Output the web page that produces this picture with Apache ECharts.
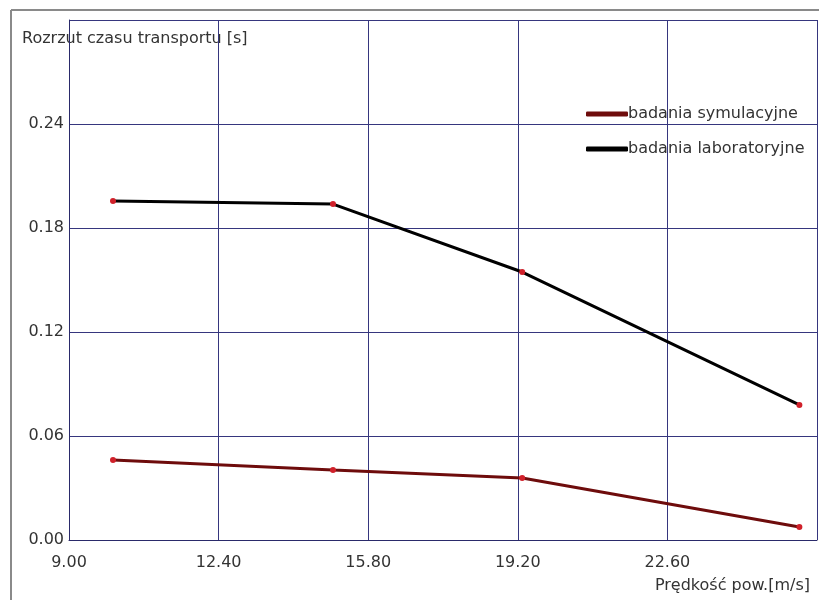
<!DOCTYPE html>
<html><head><meta charset="utf-8">
<script src="https://cdn.jsdelivr.net/npm/echarts@6/dist/echarts.min.js"></script>
<style>html,body{margin:0;padding:0;background:#fff}#c{width:819px;height:600px}</style>
</head><body><div id="c"></div>
<script>
const speeds = [10.0, 15.0, 19.3, 25.6];
const symulacyjne = [0.0462, 0.0404, 0.0358, 0.0075];
const laboratoryjne = [0.1956, 0.1938, 0.1546, 0.0779];
const seriesNames = ['badania symulacyjne', 'badania laboratoryjne'];
const lineColors = ['#6e0c0c', '#000000'];
const yTitle = 'Rozrzut czasu transportu [s]';
const xTitle = 'Prędkość pow.[m/s]';

const font = 'DejaVu Sans';
const chart = echarts.init(document.getElementById('c'));
const pairs = v => speeds.map((s, i) => [s, v[i]]);
chart.setOption({
  animation: false,
  textStyle: {fontFamily: font},
  grid: {left: 69, top: 20, right: 2, bottom: 60, containLabel: false},
  graphic: [
    {type: 'line', shape: {x1: 11, y1: 10, x2: 819, y2: 10}, style: {stroke: '#8a8a8a', lineWidth: 2}},
    {type: 'line', shape: {x1: 11, y1: 10, x2: 11, y2: 600}, style: {stroke: '#8a8a8a', lineWidth: 2}},
    {type: 'text', left: 22, top: 31, style: {text: yTitle, font: '16px ' + font, fill: '#333'}},
    {type: 'text', right: 9, top: 578, style: {text: xTitle, font: '16px ' + font, fill: '#333'}}
  ],
  legend: {
    left: 581, top: 101, orient: 'vertical', itemGap: 19,
    itemWidth: 42, itemHeight: 5, icon: 'roundRect',
    textStyle: {fontFamily: font, fontSize: 16, color: '#333', padding: [0, 0, 0, -5]},
    data: seriesNames.map((n, i) => ({name: n, itemStyle: {color: lineColors[i]}}))
  },
  xAxis: {
    type: 'value', min: 9, max: 26, interval: 3.4,
    axisLine: {lineStyle: {color: '#2a2a6a', width: 1}},
    axisTick: {show: false},
    splitLine: {lineStyle: {color: '#36367e', width: 1}},
    axisLabel: {showMaxLabel: false, formatter: v => v.toFixed(2), color: '#333', fontSize: 16, margin: 15, fontFamily: font}
  },
  yAxis: {
    type: 'value', min: 0, max: 0.3, interval: 0.06,
    axisLine: {show: true, lineStyle: {color: '#2a2a6a', width: 1}},
    axisTick: {show: false},
    splitLine: {lineStyle: {color: '#36367e', width: 1}},
    axisLabel: {showMaxLabel: false, formatter: v => v.toFixed(2), color: '#333', fontSize: 16, margin: 5, fontFamily: font}
  },
  series: [
    {name: seriesNames[0], type: 'line', data: pairs(symulacyjne), color: lineColors[0],
     lineStyle: {color: lineColors[0], width: 3}, symbol: 'circle', symbolSize: 6,
     itemStyle: {color: '#d0202a'}},
    {name: seriesNames[1], type: 'line', data: pairs(laboratoryjne), color: lineColors[1],
     lineStyle: {color: lineColors[1], width: 3}, symbol: 'circle', symbolSize: 6,
     itemStyle: {color: '#d0202a'}}
  ]
});
</script></body></html>
